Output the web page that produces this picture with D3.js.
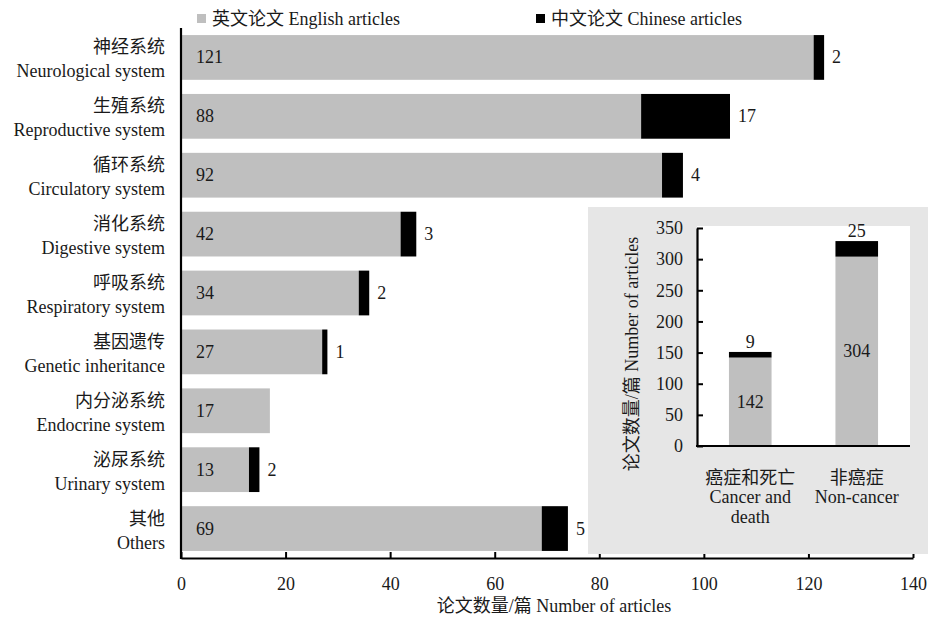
<!DOCTYPE html>
<html>
<head>
<meta charset="utf-8">
<script src="https://cdn.jsdelivr.net/npm/d3@7/dist/d3.min.js"></script>
<style>
  html, body { margin: 0; padding: 0; background: #fff; }
  svg text { font-family: "Liberation Serif", "Noto Sans CJK SC", serif; fill: #1a1a1a; }
</style>
</head>
<body>
<svg id="chart" width="930" height="618"></svg>
<script>
// Articles by body system
const categoriesZh = ["神经系统", "生殖系统", "循环系统", "消化系统", "呼吸系统", "基因遗传", "内分泌系统", "泌尿系统", "其他"];
const categoriesEn = ["Neurological system", "Reproductive system", "Circulatory system", "Digestive system", "Respiratory system", "Genetic inheritance", "Endocrine system", "Urinary system", "Others"];
const englishArticles = [121, 88, 92, 42, 34, 27, 17, 13, 69];
const chineseArticles = [2, 17, 4, 3, 2, 1, 0, 2, 5];
const xTicks = [0, 20, 40, 60, 80, 100, 120, 140];

// Inset: cancer vs non-cancer
const insetGroupsZh = ["癌症和死亡", "非癌症"];
const insetGroupsEn = [["Cancer and", "death"], ["Non-cancer"]];
const insetEnglish = [142, 304];
const insetChinese = [9, 25];
const insetTicks = [0, 50, 100, 150, 200, 250, 300, 350];

const legendLabels = ["英文论文 English articles", "中文论文 Chinese articles"];

const GRAY = "#bfbfbf", BLACK = "#000000", PANEL = "#e6e6e6";
const FS = 18;

const svg = d3.select("#chart");

// ---- main horizontal chart ----
const x = d3.scaleLinear().domain([0, 140]).range([181, 913]);
const y = d3.scaleBand().domain(d3.range(categoriesZh.length)).range([28, 558])
  .paddingInner(0.24).paddingOuter(0.12);

const rows = svg.append("g").selectAll("g").data(d3.range(categoriesZh.length)).join("g");

rows.append("rect")
  .attr("x", x(0)).attr("y", i => y(i))
  .attr("width", i => x(englishArticles[i]) - x(0))
  .attr("height", y.bandwidth()).attr("fill", GRAY);

rows.filter(i => chineseArticles[i] > 0).append("rect")
  .attr("x", i => x(englishArticles[i])).attr("y", i => y(i))
  .attr("width", i => x(englishArticles[i] + chineseArticles[i]) - x(englishArticles[i]))
  .attr("height", y.bandwidth()).attr("fill", BLACK);

rows.append("text")
  .attr("x", x(0) + 15).attr("y", i => y(i) + y.bandwidth() / 2)
  .attr("dominant-baseline", "central").attr("font-size", FS)
  .text(i => englishArticles[i]);

rows.filter(i => chineseArticles[i] > 0).append("text")
  .attr("x", i => x(englishArticles[i] + chineseArticles[i]) + 8)
  .attr("y", i => y(i) + y.bandwidth() / 2)
  .attr("dominant-baseline", "central").attr("font-size", FS)
  .text(i => chineseArticles[i]);

// category labels, two lines each
rows.append("text")
  .attr("x", 165).attr("y", i => y(i) + y.bandwidth() / 2 - 10)
  .attr("text-anchor", "end").attr("dominant-baseline", "central").attr("font-size", FS)
  .text(i => categoriesZh[i]);
rows.append("text")
  .attr("x", 165).attr("y", i => y(i) + y.bandwidth() / 2 + 14)
  .attr("text-anchor", "end").attr("dominant-baseline", "central").attr("font-size", FS)
  .text(i => categoriesEn[i]);

// axes
const xAxis = svg.append("g").attr("transform", "translate(0,558)")
  .call(d3.axisBottom(x).tickValues(xTicks).tickSize(-6).tickPadding(19).tickSizeOuter(0));
xAxis.select(".domain").attr("stroke", "#000").attr("stroke-width", 2.2);
xAxis.selectAll(".tick line").attr("stroke", "#000").attr("stroke-width", 2);
xAxis.selectAll(".tick text").attr("font-size", FS).attr("font-family", null).attr("fill", "#1a1a1a")
  .attr("dy", "0.71em");

svg.append("line").attr("x1", 181).attr("x2", 181).attr("y1", 28).attr("y2", 559)
  .attr("stroke", "#000").attr("stroke-width", 2.2);

svg.append("text").attr("x", 554).attr("y", 612).attr("text-anchor", "middle")
  .attr("font-size", FS).text("论文数量/篇 Number of articles");

// legend
const legend = svg.append("g");
[[197, GRAY], [536, BLACK]].forEach(([lx, c], k) => {
  legend.append("rect").attr("x", lx).attr("y", 14).attr("width", 9).attr("height", 9).attr("fill", c);
  legend.append("text").attr("x", lx + 15).attr("y", 19).attr("dominant-baseline", "central")
    .attr("font-size", FS).text(legendLabels[k]);
});

// ---- inset chart ----
const inset = svg.append("g");
inset.append("rect").attr("x", 588).attr("y", 207).attr("width", 340).attr("height", 347).attr("fill", PANEL);
inset.append("rect").attr("x", 697).attr("y", 226).attr("width", 213).attr("height", 220).attr("fill", "#fff");

const ix = d3.scaleBand().domain(d3.range(insetGroupsZh.length)).range([697, 910])
  .paddingInner(0.6).paddingOuter(0.3);
const iy = d3.scaleLinear().domain([0, 350]).range([446, 228]);

const cols = inset.append("g").selectAll("g").data(d3.range(insetGroupsZh.length)).join("g");
cols.append("rect").attr("x", i => ix(i)).attr("width", ix.bandwidth())
  .attr("y", i => iy(insetEnglish[i])).attr("height", i => iy(0) - iy(insetEnglish[i])).attr("fill", GRAY);
cols.append("rect").attr("x", i => ix(i)).attr("width", ix.bandwidth())
  .attr("y", i => iy(insetEnglish[i] + insetChinese[i]))
  .attr("height", i => iy(insetEnglish[i]) - iy(insetEnglish[i] + insetChinese[i])).attr("fill", BLACK);
cols.append("text").attr("x", i => ix(i) + ix.bandwidth() / 2)
  .attr("y", i => (iy(insetEnglish[i]) + iy(0)) / 2)
  .attr("text-anchor", "middle").attr("dominant-baseline", "central").attr("font-size", FS)
  .text(i => insetEnglish[i]);
cols.append("text").attr("x", i => ix(i) + ix.bandwidth() / 2)
  .attr("y", i => iy(insetEnglish[i] + insetChinese[i]) - 10)
  .attr("text-anchor", "middle").attr("dominant-baseline", "central").attr("font-size", FS)
  .text(i => insetChinese[i]);

cols.append("text").attr("x", i => ix(i) + ix.bandwidth() / 2).attr("y", 478)
  .attr("text-anchor", "middle").attr("dominant-baseline", "central").attr("font-size", FS)
  .text(i => insetGroupsZh[i]);
cols.each(function (i) {
  insetGroupsEn[i].forEach((line, j) => {
    d3.select(this).append("text").attr("x", ix(i) + ix.bandwidth() / 2).attr("y", 497 + j * 20)
      .attr("text-anchor", "middle").attr("dominant-baseline", "central").attr("font-size", FS)
      .text(line);
  });
});

const iyAxis = inset.append("g").attr("transform", "translate(697,0)")
  .call(d3.axisLeft(iy).tickValues(insetTicks).tickSize(-6).tickPadding(14).tickSizeOuter(0));
iyAxis.select(".domain").attr("stroke", "#000").attr("stroke-width", 2.2);
iyAxis.selectAll(".tick line").attr("stroke", "#000").attr("stroke-width", 2);
iyAxis.selectAll(".tick text").attr("font-size", FS).attr("font-family", null).attr("fill", "#1a1a1a");

inset.append("line").attr("x1", 696).attr("x2", 910).attr("y1", 446).attr("y2", 446)
  .attr("stroke", "#000").attr("stroke-width", 2.2);

inset.append("text").attr("transform", "translate(632,354) rotate(-90)")
  .attr("text-anchor", "middle").attr("dominant-baseline", "central").attr("font-size", FS)
  .text("论文数量/篇 Number of articles");
</script>
</body>
</html>
